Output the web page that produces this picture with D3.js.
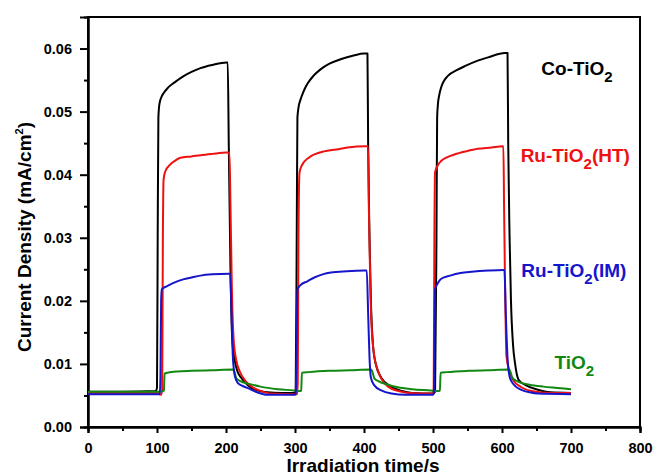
<!DOCTYPE html>
<html>
<head>
<meta charset="utf-8">
<script src="https://cdn.jsdelivr.net/npm/d3@7"></script>
<style>
	body { margin: 0; background: #fff; }
	text { font-family: "Liberation Sans", Arial, sans-serif; font-weight: bold; }
</style>
</head>
<body>
<div id="chart"></div>
<script>
var width = 655,
	height = 475;
var margin = {top: 17, right: 15, bottom: 48, left: 88};

// series, [time (s), current density (mA/cm2)]
var coTiO2 = [[0,0.0056],[50,0.0056],[98,0.0057],[100,0.0062],[101,0.030],[102,0.049],[103.5,0.0512],[106,0.0522],[110,0.0530],[116,0.0538],[125,0.0546],[138,0.0556],[150,0.0563],[163,0.0569],[180,0.0574],[201,0.0578],[202.5,0.0578],[204,0.045],[206.5,0.025],[209,0.014],[212,0.0110],[216,0.0090],[222,0.0078],[232,0.0066],[245,0.0058],[260,0.0055],[280,0.0054],[300,0.0054],[301,0.0058],[302.5,0.030],[303.5,0.049],[305,0.0506],[308,0.0519],[312,0.0531],[318,0.0544],[327,0.0557],[337,0.0567],[350,0.0576],[366,0.0583],[385,0.0589],[400,0.0592],[405,0.0592],[406,0.045],[408,0.030],[410,0.020],[413,0.013],[417,0.0100],[425,0.0078],[439,0.0064],[455,0.0057],[470,0.0054],[500,0.0053],[503,0.0056],[505,0.030],[506,0.049],[507,0.0510],[509,0.0526],[512,0.0539],[516,0.0549],[522,0.0557],[535,0.0566],[546,0.0572],[563,0.0580],[580,0.0586],[604,0.0593],[608,0.0593],[609,0.045],[611,0.030],[613,0.020],[616,0.013],[619,0.0100],[624,0.0075],[635,0.0066],[652,0.0059],[670,0.0055],[700,0.0054]];

var ruTiO2HT = [[0,0.0054],[100,0.0054],[106,0.0051],[107.5,0.0060],[108.5,0.030],[109.6,0.0393],[112,0.0405],[119,0.0416],[126,0.0422],[134,0.0427],[150,0.0429],[163,0.0431],[180,0.0433],[201,0.0435],[205,0.0435],[206.5,0.035],[208.5,0.022],[211,0.014],[215,0.0105],[220,0.0088],[228,0.0073],[240,0.0062],[251,0.0057],[265,0.0053],[300,0.0052],[303,0.0052],[304,0.0070],[305,0.030],[306.5,0.0403],[310,0.0415],[320,0.0427],[330,0.0433],[342,0.0437],[360,0.0440],[376,0.0443],[403,0.0445],[406,0.0445],[407,0.035],[409,0.023],[411,0.016],[415,0.0112],[420,0.0090],[425,0.0077],[435,0.0064],[450,0.0057],[465,0.0054],[500,0.0053],[501,0.0060],[502,0.030],[503,0.0404],[507,0.0415],[512,0.0422],[521,0.0428],[531,0.0432],[548,0.0437],[565,0.0441],[585,0.0443],[601,0.0445],[602,0.0445],[603,0.035],[604.5,0.022],[606.5,0.0112],[611,0.0088],[616,0.0075],[628,0.0063],[643,0.0057],[670,0.0054],[700,0.0054]];

var ruTiO2IM = [[0,0.0052],[100,0.0052],[104,0.0052],[105,0.0080],[106,0.020],[107,0.0218],[110,0.0221],[114,0.0223],[125,0.0229],[138,0.0234],[150,0.0237],[163,0.0240],[180,0.0242],[204,0.0243],[206,0.0243],[208,0.018],[210,0.011],[213,0.0080],[217,0.0070],[224,0.0065],[231,0.0062],[245,0.0055],[260,0.0051],[300,0.0051],[301,0.0053],[302,0.010],[303.5,0.0218],[308,0.0225],[318,0.0231],[328,0.0237],[340,0.0242],[352,0.0245],[375,0.0247],[400,0.0248],[404,0.0248],[406,0.018],[408,0.011],[410,0.0078],[415,0.0066],[425,0.0058],[440,0.0053],[460,0.0051],[500,0.0051],[501,0.0053],[502,0.010],[503,0.0218],[507,0.0228],[512,0.0235],[525,0.0240],[540,0.0244],[556,0.0246],[580,0.0248],[602,0.0249],[603.5,0.0249],[605.5,0.018],[608,0.011],[611,0.0080],[614,0.0072],[620,0.0064],[628,0.0059],[640,0.0055],[652,0.0053],[700,0.0052]];

var tiO2 = [[0,0.0056],[100,0.0056],[109,0.0057],[110,0.0058],[111,0.0085],[115,0.0086],[130,0.0088],[150,0.0089],[180,0.0090],[210,0.0091],[212,0.0088],[215,0.0077],[220,0.0073],[235,0.0068],[250,0.0064],[275,0.0060],[298,0.0058],[307,0.0057],[309,0.0058],[310,0.0086],[320,0.0087],[350,0.0089],[380,0.0090],[410,0.0091],[412,0.0088],[415,0.0077],[420,0.0073],[435,0.0067],[449,0.0063],[470,0.0060],[497,0.0058],[508,0.0057],[510,0.0058],[511,0.0086],[520,0.0087],[550,0.0089],[580,0.0090],[610,0.0091],[612,0.0088],[615,0.0078],[623,0.0072],[640,0.0067],[660,0.0064],[680,0.0062],[700,0.0060]];

// ticks
var xTicks = [0, 100, 200, 300, 400, 500, 600, 700, 800];
var xMinor = [50, 150, 250, 350, 450, 550, 650, 750];
var yTicks = [0, 0.01, 0.02, 0.03, 0.04, 0.05, 0.06];
var yMinor = [0.005, 0.015, 0.025, 0.035, 0.045, 0.055];

var svg = d3.select("#chart")
	.append("svg")
	.attr("width", width)
	.attr("height", height);

var x = d3.scaleLinear()
	.domain([0, 800])
	.range([margin.left, width - margin.right]);

var y = d3.scaleLinear()
	.domain([0, 0.065])
	.range([height - margin.bottom, margin.top]);

//frame
svg.append("rect")
	.attr("x", x(0))
	.attr("y", y(0.065))
	.attr("width", x(800) - x(0))
	.attr("height", y(0) - y(0.065))
	.attr("fill", "none")
	.attr("stroke", "#000")
	.attr("stroke-width", 2);

//axes
var gx = svg.append("g")
	.attr("transform", "translate(0," + y(0) + ")")
	.call(d3.axisBottom(x).tickValues(xTicks).tickSize(6).tickPadding(10).tickFormat(d3.format("d")));
var gxm = svg.append("g")
	.attr("transform", "translate(0," + y(0) + ")")
	.call(d3.axisBottom(x).tickValues(xMinor).tickSize(4).tickFormat(""));
var gy = svg.append("g")
	.attr("transform", "translate(" + x(0) + ",0)")
	.call(d3.axisLeft(y).tickValues(yTicks).tickSize(8).tickPadding(8).tickFormat(d3.format(".2f")));
var gym = svg.append("g")
	.attr("transform", "translate(" + x(0) + ",0)")
	.call(d3.axisLeft(y).tickValues(yMinor).tickSize(4).tickFormat(""));

[gx, gxm, gy, gym].forEach(function(g) {
	g.select(".domain").attr("stroke-width", 2);
	g.selectAll(".tick line").attr("stroke-width", 2);
	g.selectAll("text")
		.attr("font-size", 14.5)
		.attr("fill", "#000");
});

//lines
var line = d3.line()
	.x(function(d) { return x(d[0]); })
	.y(function(d) { return y(d[1]); })
	.curve(d3.curveMonotoneX);

var series = [
	{name: "Co-TiO", tail: "", values: coTiO2, color: "#000000", lx: 657, ly: 0.0558},
	{name: "Ru-TiO", tail: "(HT)", values: ruTiO2HT, color: "#ee1111", lx: 627, ly: 0.0420},
	{name: "Ru-TiO", tail: "(IM)", values: ruTiO2IM, color: "#1515cc", lx: 628, ly: 0.0238},
	{name: "TiO", tail: "", values: tiO2, color: "#118811", lx: 676, ly: 0.0092}
];

var drawOrder = [0, 1, 3, 2];
drawOrder.forEach(function(i) {
	svg.append("path")
		.datum(series[i].values)
		.attr("fill", "none")
		.attr("stroke", series[i].color)
		.attr("stroke-width", 2)
		.attr("stroke-linejoin", "round")
		.attr("d", line);
});

//labels
series.forEach(function(s) {
	var t = svg.append("text")
		.attr("x", x(s.lx))
		.attr("y", y(s.ly))
		.attr("font-size", 19)
		.attr("fill", s.color);
	t.append("tspan").text(s.name);
	t.append("tspan").attr("font-size", 15).attr("dy", 7).text("2");
	t.append("tspan").attr("dy", -7).text(s.tail);
});

//axis titles
svg.append("text")
	.attr("x", 363)
	.attr("y", 472)
	.attr("text-anchor", "middle")
	.attr("font-size", 19)
	.text("Irradiation time/s");

var yt = svg.append("text")
	.attr("transform", "translate(31,237) rotate(-90)")
	.attr("text-anchor", "middle")
	.attr("font-size", 19);
yt.append("tspan").text("Current Density (mA/cm");
yt.append("tspan").attr("font-size", 11).attr("dy", -8).text("2");
yt.append("tspan").attr("dy", 8).text(")");
</script>
</body>
</html>
